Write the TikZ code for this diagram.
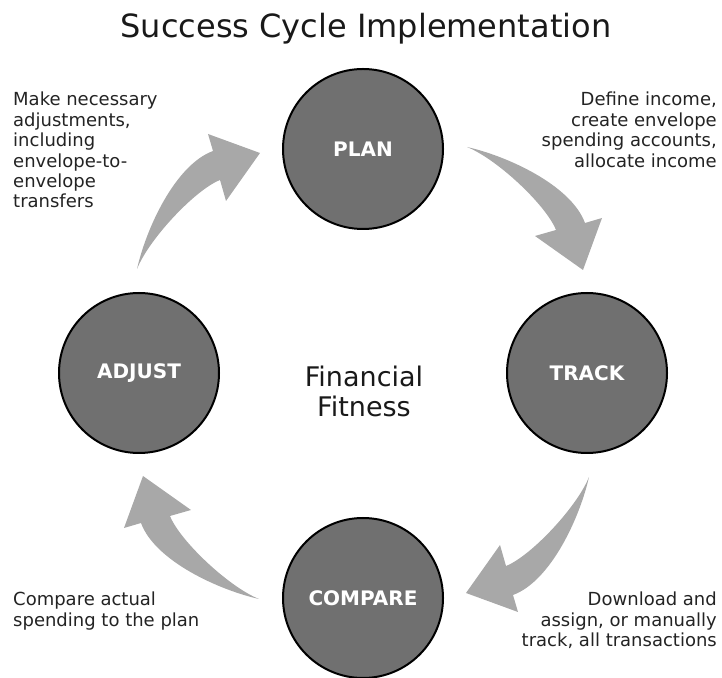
\documentclass[tikz,border=0pt]{standalone}
\usepackage{fontspec}
\setmainfont{DejaVu Sans}
\usepackage{xcolor}
\usepackage{tikz}
\usetikzlibrary{positioning}

\definecolor{stagegray}{RGB}{112,112,112}
\definecolor{arrowgray}{RGB}{168,168,168}
\definecolor{notegray}{RGB}{35,35,35}

\tikzset{
  stage/.style={circle, draw=black, line width=2pt, fill=stagegray,
    minimum size=160pt, inner sep=0pt, text=white,
    font=\fontsize{20}{24}\selectfont\bfseries},
  note/.style={inner sep=0pt, text=notegray,
    font=\fontsize{18}{20.4}\selectfont},
  cyclearrow/.style={fill=arrowgray, draw=none}
}

\begin{document}
\begin{tikzpicture}[x=1pt, y=1pt]
\useasboundingbox (0,0) rectangle (722,677);
\coordinate (ctr) at (363,304);

% title
\node[inner sep=0pt, anchor=base, text=black!90, font=\fontsize{32}{36}\selectfont] (title) at (366,639) {Success Cycle Implementation};

% the four curved arrows, one shape turned round the centre
\foreach \ang in {0,-90,-180,-270}{
  \begin{scope}[shift={(ctr)}, rotate=\ang]
    \fill[cyclearrow] (-226,104) .. controls (-217,144) and (-188,208) .. (-150,222)
      -- (-155,239) -- (-103,220) -- (-137,172) -- (-143,193)
      .. controls (-168,183) and (-214,134) .. (-226,104) -- cycle;
  \end{scope}
}

% stages
\node[stage] (plan) at (363,528) {PLAN};
\node[stage] (track) at (587,304) {TRACK};
\node[stage] (compare) at (363,79) {COMPARE};
\node[stage] (adjust) at (139,304) {ADJUST};

\node[inner sep=0pt, anchor=north, align=center, text=black!90,
  font=\fontsize{27}{30}\selectfont] (fitness) at (364,311) {Financial\\Fitness};

% notes
\node[note, anchor=north west, align=left] (adjustnote) at (13,585)
  {Make necessary\\adjustments,\\including\\envelope-to-\\envelope\\transfers};
\node[note, anchor=north east, align=right] (plannote) at (717,585)
  {Define income,\\create envelope\\spending accounts,\\allocate income};
\node[note, anchor=north east, align=right] (tracknote) at (717,85)
  {Download and\\assign, or manually\\track, all transactions};
\node[note, anchor=north west, align=left] (comparenote) at (13,85)
  {Compare actual\\spending to the plan};
\end{tikzpicture}
\end{document}
